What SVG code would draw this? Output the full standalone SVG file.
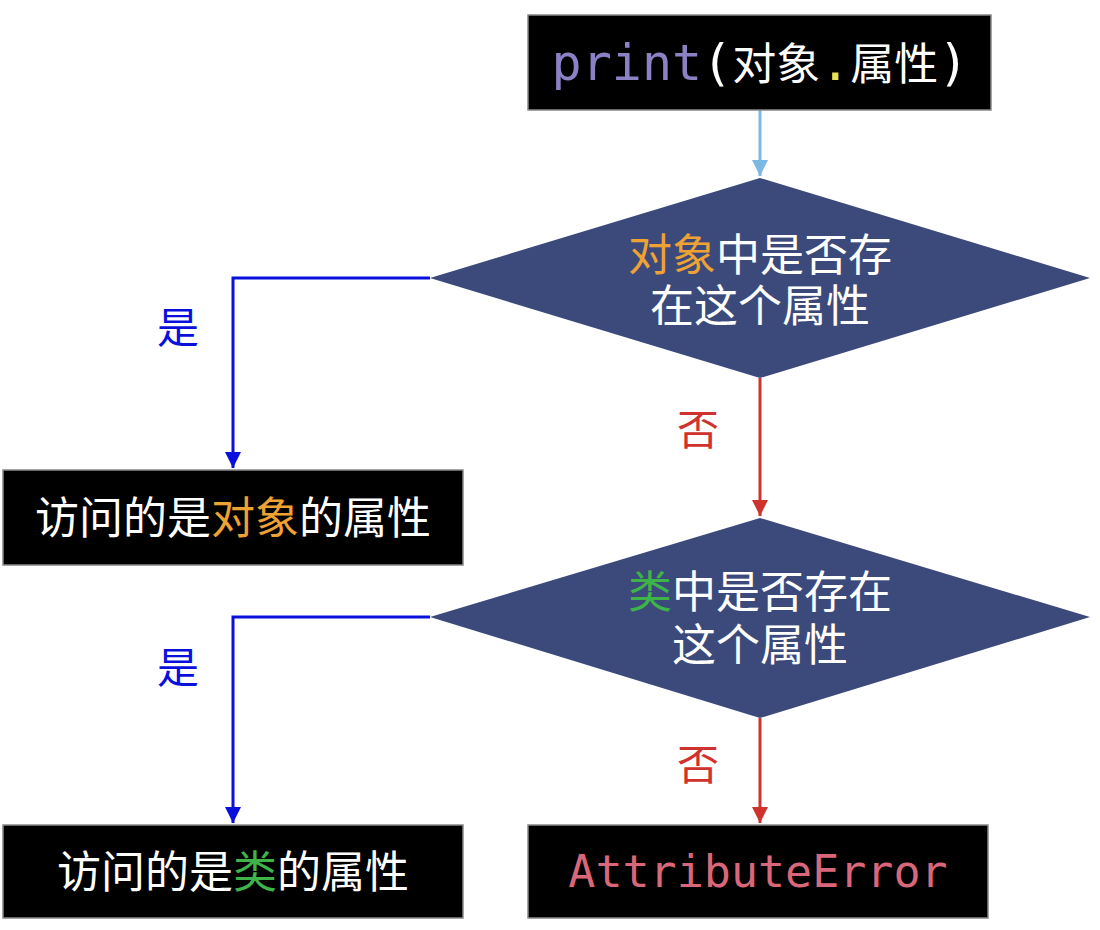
<svg xmlns="http://www.w3.org/2000/svg" width="1100" height="930" viewBox="0 0 1100 930">
<defs>
<style>
.box{fill:#000;stroke:#888;stroke-width:1.5}
.dia{fill:#3c4a7b}
.cn{font-family:"Noto Sans CJK SC","Noto Sans",sans-serif;font-size:44px;fill:#fff;text-anchor:middle}
.lbl{font-family:"Noto Sans CJK SC","Noto Sans",sans-serif;font-size:42px;text-anchor:middle}
.mono{font-family:"DejaVu Sans Mono","Liberation Mono",monospace}
.blue{stroke:#0a10dc;stroke-width:3;fill:none}
.red{stroke:#d0322e;stroke-width:3;fill:none}
.lb{stroke:#7bb8e3;stroke-width:3;fill:none}
.orange{fill:#eea233}
.green{fill:#3db34a}
</style>
<marker id="arB" viewBox="0 0 10 10" refX="10" refY="5" markerWidth="16" markerHeight="16" orient="auto" markerUnits="userSpaceOnUse"><path d="M0,0 L10,5 L0,10 z" fill="#0a10dc"/></marker>
<marker id="arR" viewBox="0 0 10 10" refX="10" refY="5" markerWidth="16" markerHeight="16" orient="auto" markerUnits="userSpaceOnUse"><path d="M0,0 L10,5 L0,10 z" fill="#d0322e"/></marker>
<marker id="arL" viewBox="0 0 10 10" refX="10" refY="5" markerWidth="16" markerHeight="16" orient="auto" markerUnits="userSpaceOnUse"><path d="M0,0 L10,5 L0,10 z" fill="#7bb8e3"/></marker>
</defs>
<rect width="1100" height="930" fill="#fff"/>
<g id="connectors">
<path class="lb" d="M760,110 L760,176" marker-end="url(#arL)"/>
<path class="blue" d="M430,278 L233,278 L233,468" marker-end="url(#arB)"/>
<path class="red" d="M760,378 L760,516" marker-end="url(#arR)"/>
<path class="blue" d="M430,617 L233,617 L233,823" marker-end="url(#arB)"/>
<path class="red" d="M760,718 L760,823" marker-end="url(#arR)"/>
<text x="178" y="343" class="lbl" style="fill:#0a10dc">是</text>
<text x="178" y="683" class="lbl" style="fill:#0a10dc">是</text>
<text x="698" y="445" class="lbl" style="fill:#d0322e">否</text>
<text x="698" y="780" class="lbl" style="fill:#d0322e">否</text>
</g>
<g id="start">
<rect class="box" x="528" y="15" width="463" height="95"/>
<text x="760" y="80" class="cn"><tspan class="mono" style="fill:#8a82c4;font-size:50px">print</tspan><tspan class="mono" style="font-size:50px">(</tspan>对象<tspan class="mono" style="fill:#e6e05a;font-size:50px">.</tspan>属性<tspan class="mono" style="font-size:50px">)</tspan></text>
</g>
<g id="decision1">
<polygon class="dia" points="760,178 1090,278 760,378 430,278"/>
<text class="cn"><tspan x="760" y="271"><tspan class="orange">对象</tspan>中是否存</tspan><tspan x="760" y="322">在这个属性</tspan></text>
</g>
<g id="objattr">
<rect class="box" x="3" y="470" width="460" height="95"/>
<text x="233" y="534" class="cn">访问的是<tspan class="orange">对象</tspan>的属性</text>
</g>
<g id="decision2">
<polygon class="dia" points="760,518 1090,617 760,718 430,617"/>
<text class="cn"><tspan x="760" y="608"><tspan class="green">类</tspan>中是否存在</tspan><tspan x="760" y="661">这个属性</tspan></text>
</g>
<g id="classattr">
<rect class="box" x="3" y="825" width="460" height="93"/>
<text x="233" y="888" class="cn">访问的是<tspan class="green">类</tspan>的属性</text>
</g>
<g id="error">
<rect class="box" x="528" y="825" width="460" height="93"/>
<text x="758" y="887" class="mono" style="font-size:45px;fill:#d9677a;text-anchor:middle">AttributeError</text>
</g>
</svg>
